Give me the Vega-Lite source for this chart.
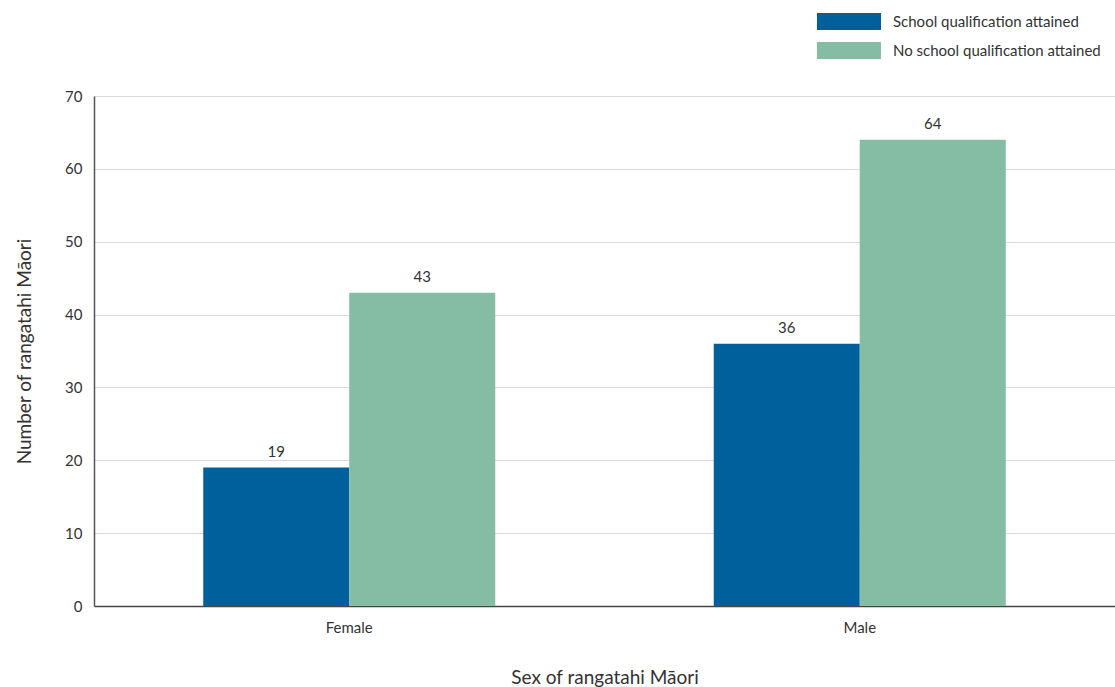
{
  "$schema": "https://vega.github.io/schema/vega-lite/v6.json",
  "autosize": {"type": "none"},
  "width": 1021,
  "height": 510,
  "padding": {"left": 94, "top": 96, "right": 0, "bottom": 81},
  "background": "white",
  "config": {
    "view": {"stroke": null},
    "font": "Lato",
    "axis": {"labelFont": "Lato", "titleFont": "Lato", "labelColor": "#333333", "titleColor": "#333333", "titleFontWeight": "normal"}
  },
  "data": {
    "values": [
      {"sex": "Female", "qual": "School qualification attained", "count": 19},
      {"sex": "Female", "qual": "No school qualification attained", "count": 43},
      {"sex": "Male", "qual": "School qualification attained", "count": 36},
      {"sex": "Male", "qual": "No school qualification attained", "count": 64}
    ]
  },
  "encoding": {
    "x": {
      "field": "sex", "type": "nominal",
      "scale": {"paddingInner": 0.428, "paddingOuter": 0.214},
      "axis": {
        "title": "Sex of rangatahi Māori", "titleFontSize": 19, "titlePadding": 33,
        "labelAngle": 0, "labelFontSize": 15, "labelPadding": 14,
        "ticks": false, "domainColor": "#444444", "domainWidth": 1.5
      }
    },
    "xOffset": {
      "field": "qual", "type": "nominal",
      "sort": ["School qualification attained", "No school qualification attained"],
      "scale": {"paddingInner": 0, "paddingOuter": 0}
    },
    "y": {
      "field": "count", "type": "quantitative",
      "scale": {"domain": [0, 70], "nice": false},
      "axis": {
        "title": "Number of rangatahi Māori", "titleFontSize": 19, "titlePadding": 30,
        "values": [0, 10, 20, 30, 40, 50, 60, 70],
        "labelFontSize": 15, "labelPadding": 12, "ticks": false,
        "domainColor": "#555555", "domainWidth": 1.5,
        "gridColor": "#d9d9d9", "gridWidth": 1.2
      }
    }
  },
  "layer": [
    {
      "mark": {"type": "bar"},
      "encoding": {
        "color": {
          "field": "qual", "type": "nominal",
          "sort": ["School qualification attained", "No school qualification attained"],
          "scale": {"domain": ["School qualification attained", "No school qualification attained"], "range": ["#00609c", "#84bca4"]},
          "legend": {
            "title": null, "orient": "none", "legendX": 747, "legendY": -82.5,
            "symbolType": "M-4,-1.07H4V1.07H-4Z", "symbolSize": 256, "symbolStrokeWidth": 0,
            "labelFontSize": 15, "labelColor": "#333333", "labelOffset": 36, "labelLimit": 400,
            "rowPadding": 11, "padding": 0, "symbolOffset": 0
          }
        }
      }
    },
    {
      "mark": {"type": "text", "baseline": "alphabetic", "dy": -11, "fontSize": 15, "color": "#333333"},
      "encoding": {"text": {"field": "count", "type": "quantitative"}}
    }
  ]
}
